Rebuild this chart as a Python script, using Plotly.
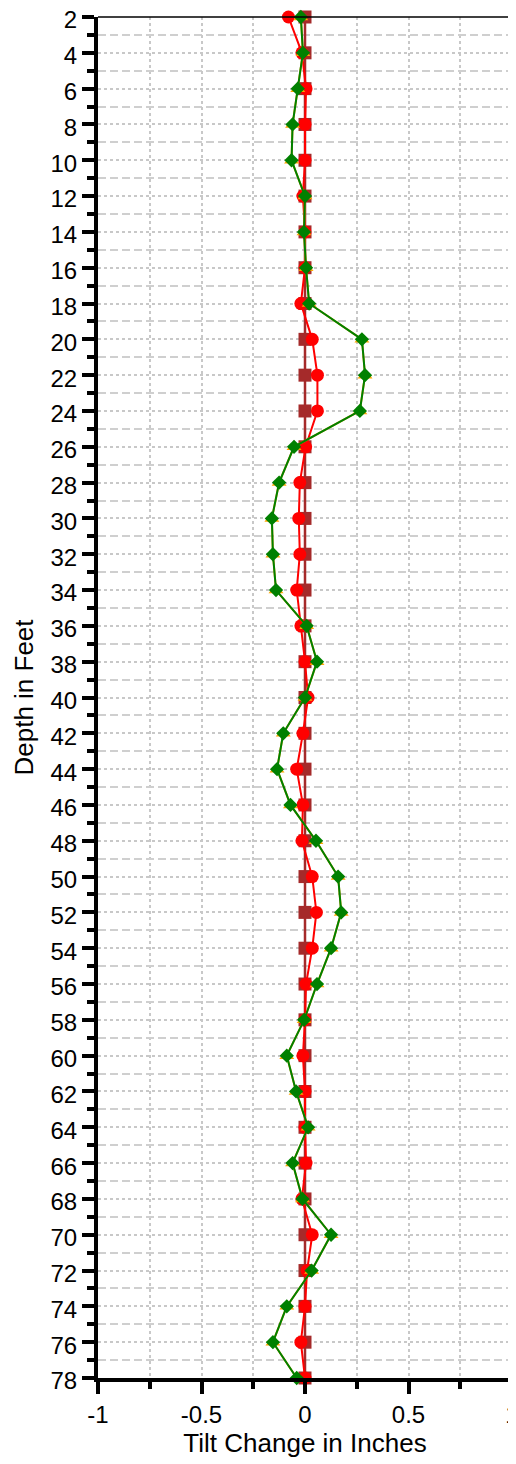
import plotly.graph_objects as go

depth = list(range(2, 80, 2))

brown_sq = [0.0] * 39

red_circ = [-0.08, -0.015, 0.005, 0.0, 0.0, -0.01, 0.0, 0.0, -0.02, 0.035,
            0.06, 0.06, 0.003, -0.025, -0.03, -0.025, -0.04, -0.02, 0.0, 0.015,
            -0.01, -0.04, -0.01, -0.015, 0.035, 0.055, 0.035, 0.005, 0.0, -0.01,
            0.0, 0.0, 0.005, -0.015, 0.035, 0.01, 0.0, -0.02, 0.0]

green_dia = [-0.02, -0.01, -0.035, -0.06, -0.065, 0.0, -0.005, 0.005, 0.02, 0.275,
             0.29, 0.265, -0.053, -0.125, -0.16, -0.155, -0.14, 0.008, 0.058, 0.0,
             -0.105, -0.135, -0.07, 0.053, 0.16, 0.175, 0.126, 0.058, -0.004, -0.088,
             -0.043, 0.015, -0.06, -0.012, 0.126, 0.032, -0.088, -0.155, -0.04]

orange_tri = list(green_dia)

x_ticks = [-1, -0.5, 0, 0.5, 1]
x_tick_text = ["-1", "-0.5", "0", "0.5", "1"]

FONT = "Liberation Sans, Arial, sans-serif"

fig = go.Figure()
fig.add_trace(go.Scatter(x=brown_sq, y=depth, mode="lines+markers", cliponaxis=False,
                         line=dict(color="#A52A2A", width=2.5),
                         marker=dict(symbol="square", size=13, color="#A52A2A")))
fig.add_trace(go.Scatter(x=red_circ, y=depth, mode="lines+markers", cliponaxis=False,
                         line=dict(color="#FF0000", width=2),
                         marker=dict(symbol="circle", size=13, color="#FF0000")))
fig.add_trace(go.Scatter(x=orange_tri, y=depth, mode="lines+markers", cliponaxis=False,
                         line=dict(color="#FFA500", width=2),
                         marker=dict(symbol="triangle-up", size=13, color="#FFA500")))
fig.add_trace(go.Scatter(x=green_dia, y=depth, mode="lines+markers", cliponaxis=False,
                         line=dict(color="#008000", width=2),
                         marker=dict(symbol="diamond", size=11, color="#008000")))

grid_c = "#c8c8c8"
fig.update_layout(
    width=508, height=1456,
    margin=dict(l=90, r=4, t=9, b=86, autoexpand=False),
    plot_bgcolor="white", paper_bgcolor="white",
    showlegend=False,
    font=dict(family=FONT, size=24, color="#000"),
    xaxis=dict(
        range=[-1, 1], tickvals=x_ticks, ticktext=x_tick_text,
        showline=True, linecolor="black", linewidth=4,
        ticks="outside", ticklen=12, tickwidth=4, tickcolor="black",
        showgrid=True, gridcolor=grid_c, griddash="dot", gridwidth=1.5,
        zeroline=False, ticklabeloverflow="allow", automargin=False,
        minor=dict(dtick=0.25, ticks="outside", ticklen=7, tickwidth=4, tickcolor="black",
                   showgrid=True, gridcolor=grid_c, griddash="dot", gridwidth=1.5),
        title=dict(text="Tilt Change in Inches", font=dict(size=26), standoff=6),
        tickfont=dict(size=24),
    ),
    yaxis=dict(
        range=[78, 2], dtick=2, tick0=2,
        showline=True, linecolor="black", linewidth=4,
        ticks="outside", ticklen=12, tickwidth=4, tickcolor="black",
        showgrid=True, gridcolor=grid_c, griddash="dot", gridwidth=1.5,
        zeroline=False, ticklabeloverflow="allow", automargin=False,
        ticklabelshift=-3,
        minor=dict(dtick=1, tick0=2, ticks="outside", ticklen=7, tickwidth=4, tickcolor="black",
                   showgrid=True, gridcolor="#cfcfcf", griddash="8px,4px", gridwidth=2),
        title=dict(text="Depth in Feet", font=dict(size=26), standoff=10),
        tickfont=dict(size=24),
    ),
)

fig.add_shape(type="line", xref="paper", yref="paper", x0=0, x1=1, y0=1, y1=1,
              line=dict(color="black", width=1.5), layer="above")
fig.add_shape(type="line", xref="paper", yref="paper", x0=1, x1=1, y0=0, y1=1,
              line=dict(color="black", width=1.5), layer="above")

fig.write_html("out.html")
